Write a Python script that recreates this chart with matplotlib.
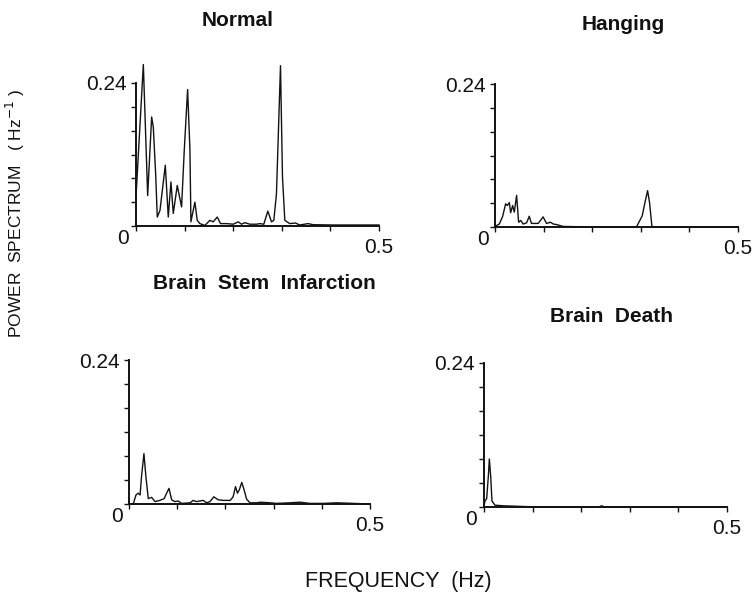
import matplotlib
matplotlib.use("Agg")
import matplotlib.pyplot as plt

plt.rcParams['font.family'] = ['Liberation Sans', 'DejaVu Sans']

# Panel titles
titles = ["Normal", "Hanging", "Brain  Stem  Infarction", "Brain  Death"]

# Axis ticks and labels
x_ticks = [0, 0.1, 0.2, 0.3, 0.4, 0.5]
x_labels = ['', '', '', '', '', '0.5']
y_ticks = [0, 0.04, 0.08, 0.12, 0.16, 0.20, 0.24]
y_labels = ['', '', '', '', '', '', '0.24']

# Spectra: frequency (Hz) and power (Hz^-1)
normal_f = [0, 0.0151, 0.0240, 0.0322, 0.0356, 0.0404, 0.0438, 0.0493, 0.0603,
            0.0664, 0.0719, 0.0767, 0.0849, 0.0938, 0.0993, 0.1062, 0.1110, 0.1130,
            0.1212, 0.1260, 0.1315, 0.1418, 0.1521, 0.1589, 0.1671, 0.1740, 0.1863,
            0.2000, 0.2103, 0.2171, 0.2240, 0.2342, 0.2479, 0.2548, 0.2630, 0.2712,
            0.2788, 0.2836, 0.2890, 0.2973, 0.3014, 0.3062, 0.3164, 0.3281, 0.3370,
            0.3541, 0.3644, 0.4055, 0.5]
normal_p = [0.049, 0.271, 0.051, 0.183, 0.166, 0.088, 0.015, 0.026, 0.102,
            0.015, 0.074, 0.021, 0.068, 0.032, 0.127, 0.229, 0.127, 0.007,
            0.040, 0.0095, 0.004, 0.001, 0.0095, 0.007, 0.015, 0.004, 0.004,
            0.003, 0.007, 0.003, 0.0056, 0.003, 0.003, 0.004, 0.003, 0.025,
            0.007, 0.0095, 0.054, 0.269, 0.082, 0.0095, 0.004, 0.005, 0.0017,
            0.004, 0.0022, 0.0017, 0.0017]

hanging_f = [0, 0.0089, 0.0158, 0.0219, 0.0253, 0.0295, 0.0322, 0.0363, 0.0397,
             0.0445, 0.0486, 0.053, 0.058, 0.065, 0.0705, 0.075, 0.089, 0.099,
             0.106, 0.114, 0.12, 0.127, 0.14, 0.202, 0.291, 0.298, 0.303, 0.308,
             0.314, 0.318, 0.323, 0.5]
hanging_p = [0.001, 0.005, 0.018, 0.039, 0.036, 0.041, 0.024, 0.036, 0.025,
             0.053, 0.008, 0.011, 0.005, 0.007, 0.018, 0.006, 0.006, 0.017,
             0.006, 0.008, 0.005, 0.004, 0.001, 0.0, 0.0, 0.011, 0.019, 0.039,
             0.061, 0.041, 0.0, 0.0]

stem_f = [0, 0.009, 0.0145, 0.019, 0.023, 0.026, 0.031, 0.035, 0.040, 0.047,
          0.054, 0.064, 0.073, 0.078, 0.083, 0.0885, 0.095, 0.102, 0.109, 0.127,
          0.133, 0.140, 0.154, 0.161, 0.168, 0.176, 0.185, 0.196, 0.21, 0.216,
          0.221, 0.225, 0.229, 0.234, 0.239, 0.244, 0.251, 0.265, 0.272, 0.293,
          0.306, 0.334, 0.355, 0.376, 0.403, 0.431, 0.5]
stem_p = [0, 0.0005, 0.015, 0.018, 0.015, 0.046, 0.084, 0.046, 0.009, 0.011,
          0.004, 0.006, 0.009, 0.018, 0.026, 0.007, 0.004, 0.005, 0.001, 0.002,
          0.006, 0.004, 0.006, 0.002, 0.004, 0.012, 0.007, 0.006, 0.006, 0.012,
          0.029, 0.018, 0.024, 0.036, 0.023, 0.008, 0.002, 0.002, 0.003, 0.002,
          0.001, 0.002, 0.003, 0.001, 0.001, 0.002, 0.0]

death_f = [0, 0.002, 0.0055, 0.009, 0.011, 0.0137, 0.0164, 0.0226, 0.04, 0.0945,
           0.236, 0.242, 0.248, 0.5]
death_p = [0.002, 0.010, 0.014, 0.052, 0.080, 0.052, 0.010, 0.003, 0.002, 0.0005,
           0.0, 0.002, 0.0, 0.0]

series = [(normal_f, normal_p), (hanging_f, hanging_p),
          (stem_f, stem_p), (death_f, death_p)]

# axes rectangles in pixels: left, bottom (from top), width, height
W, H = 752, 596
boxes = [(136, 226, 243, 143), (495, 227, 243, 143),
         (129, 504, 241, 144), (484, 507, 243, 144)]
title_pos = [(238, 20), (623, 25), (264, 283), (612, 316)]

INK = '#121212'

fig = plt.figure(figsize=(W / 100, H / 100), dpi=100)

for (fx, py), (l, b, w, h), t, (tx, ty) in zip(series, boxes, titles, title_pos):
    ax = fig.add_axes([l / W, (H - b) / H, w / W, h / H])
    ax.plot(fx, py, color=INK, linewidth=1.0, clip_on=False)
    ax.set_xlim(0, 0.5)
    ax.set_ylim(0, 0.24)
    for s in ['top', 'right']:
        ax.spines[s].set_visible(False)
    for s in ['left', 'bottom']:
        ax.spines[s].set_linewidth(1.4)
        ax.spines[s].set_color(INK)
    ax.set_xticks(x_ticks)
    ax.set_xticklabels(x_labels)
    ax.set_yticks(y_ticks)
    ax.set_yticklabels(y_labels)
    ax.tick_params(direction='out', length=3.5, width=1.0, color=INK,
                   labelsize=15, labelcolor=INK, pad=3)
    ax.tick_params(axis='x', pad=5)
    ax.annotate('0', xy=(0, 0), xycoords='axes fraction', xytext=(-9, -9),
                textcoords='offset points', ha='center', va='center',
                fontsize=15, color=INK)
    fig.text(tx / W, 1 - ty / H, t, ha='center', va='center', fontsize=15,
             fontweight='bold', color=INK)

fig.text(15 / W, 1 - 213 / H, 'POWER  SPECTRUM   ( Hz$^{-1}$ )', rotation=90,
         ha='center', va='center', fontsize=12.5, color=INK)
fig.text(305 / W, 1 - 582 / H, 'FREQUENCY  (Hz)', ha='left', va='center',
         fontsize=15.5, color=INK)

fig.savefig('out.png', dpi=100)
